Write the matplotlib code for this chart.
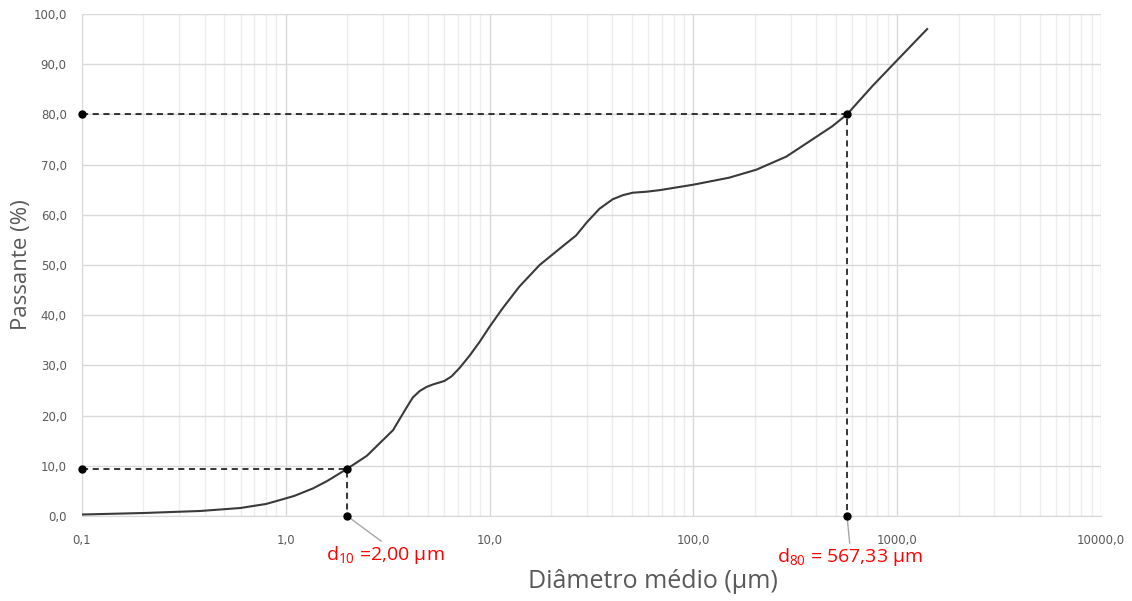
import matplotlib.pyplot as plt
import matplotlib.ticker as mticker
import numpy as np

# curva granulométrica
diametro = [0.1, 0.2, 0.38, 0.6, 0.8, 0.94, 1.1, 1.36, 1.6, 2.0, 2.5, 2.89, 3.36,
            3.9, 4.2, 4.54, 4.9, 5.27, 6.0, 6.5, 7.13, 8.0, 8.94, 10.0, 11.6, 14.0,
            17.6, 22.0, 26.6, 30.0, 34.6, 40.2, 45.0, 50.4, 58.9, 68.0, 100.0, 150.0,
            204.0, 286.0, 383.0, 479.0, 567.33, 754.0, 1000.0, 1403.0]
passante = [0.3, 0.6, 1.0, 1.6, 2.4, 3.2, 4.0, 5.5, 7.0, 9.4, 12.0, 14.5, 17.1,
            21.5, 23.6, 24.9, 25.7, 26.2, 26.9, 27.8, 29.5, 32.0, 34.7, 37.7, 41.4,
            45.7, 50.0, 53.2, 55.9, 58.5, 61.2, 63.1, 63.9, 64.4, 64.6, 64.9, 66.0,
            67.4, 69.0, 71.6, 75.0, 77.6, 80.0, 85.6, 90.8, 97.0]

d10 = (2.00, 9.4)
d80 = (567.33, 80.0)
x_min, x_max = 0.1, 10000.0

x_ticks = [0.1, 1, 10, 100, 1000, 10000]
x_labels = ['0,1', '1,0', '10,0', '100,0', '1000,0', '10000,0']
y_ticks = list(range(0, 101, 10))
y_labels = [f'{v},0' for v in y_ticks]

plt.rcParams['mathtext.fontset'] = 'custom'
plt.rcParams['mathtext.rm'] = 'Open Sans'
plt.rcParams['mathtext.it'] = 'Open Sans'

fig = plt.figure(figsize=(11.32, 6.01), dpi=100)
ax = fig.add_axes([0.0724, 0.1414, 0.9002, 0.8353])

ax.set_xscale('log')
ax.set_xlim(x_min, x_max)
ax.set_ylim(0, 100)

# grade
ax.xaxis.set_minor_locator(mticker.LogLocator(base=10, subs=np.arange(2, 10)))
ax.xaxis.set_minor_formatter(mticker.NullFormatter())
ax.grid(which='major', axis='both', color='#d9d9d9', linewidth=1.0)
ax.grid(which='minor', axis='x', color='#ededed', linewidth=1.0)
ax.set_axisbelow(True)
for s in ax.spines.values():
    s.set_visible(False)
ax.spines['left'].set_visible(True)
ax.spines['left'].set_color('#d9d9d9')
ax.spines['bottom'].set_visible(True)
ax.spines['bottom'].set_color('#d9d9d9')

ax.set_xticks(x_ticks)
ax.set_xticklabels(x_labels)
ax.set_yticks(y_ticks)
ax.set_yticklabels(y_labels)
ax.tick_params(which='both', length=0, colors='#595959', labelsize=8.5)
ax.tick_params(axis='x', pad=13)
ax.tick_params(axis='y', pad=11)

# curva
ax.plot(diametro, passante, color='#3a3a3a', linewidth=1.5, zorder=3,
        solid_joinstyle='round')

# linhas de d10 e d80
for dx, dy in (d10, d80):
    ax.plot([x_min, dx, dx], [dy, dy, 0], color='black', linestyle=(0, (4, 3)),
            linewidth=1.1, zorder=4, clip_on=False)
    ax.plot([x_min, dx, dx], [dy, dy, 0], 'o', color='black', markersize=5,
            zorder=5, clip_on=False)

leader = dict(arrowstyle='-', color='#a6a6a6', lw=1.0, shrinkA=0, shrinkB=0,
              relpos=(0.5, 1.0))
ax.annotate('d$_{10}$ =2,00 µm', xy=(d10[0], 0), xytext=(38, -39),
            textcoords='offset pixels', ha='center', va='center',
            color='#ff0000', fontsize=14, family='Open Sans',
            arrowprops=leader, annotation_clip=False)
ax.annotate('d$_{80}$ = 567,33 µm', xy=(d80[0], 0), xytext=(3, -41),
            textcoords='offset pixels', ha='center', va='center',
            color='#ff0000', fontsize=14, family='Open Sans',
            arrowprops=leader, annotation_clip=False)

ax.set_xlabel('Diâmetro médio (µm)', fontsize=18, color='#595959',
              family='Open Sans')
ax.xaxis.set_label_coords(0.560, -0.105)
ax.set_ylabel('Passante (%)', fontsize=16, color='#595959',
              family='Open Sans', labelpad=1)

fig.savefig('out.png', dpi=100)
